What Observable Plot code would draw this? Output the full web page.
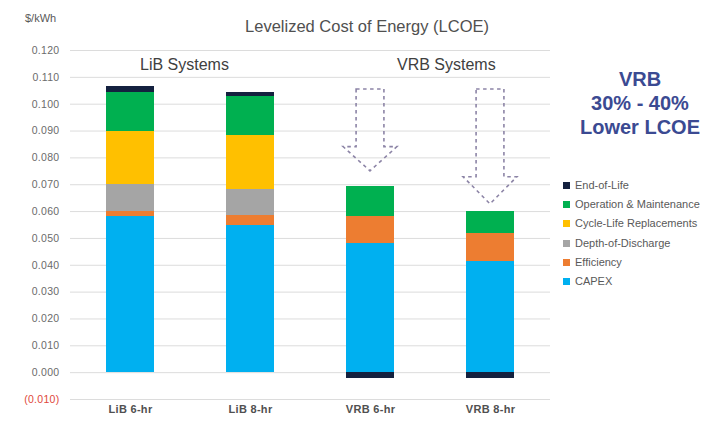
<!DOCTYPE html>
<html><head><meta charset="utf-8">
<script src="https://cdn.jsdelivr.net/npm/d3@7"></script>
<script src="https://cdn.jsdelivr.net/npm/@observablehq/plot@0.6"></script>
<style>
body{margin:0;background:#fff;font-family:"Liberation Sans",Arial,sans-serif;}
#wrap{position:relative;width:711px;height:429px;overflow:hidden;background:#fff;}
.abs{position:absolute;white-space:nowrap;line-height:1;}
#legend .item{position:absolute;left:0;display:flex;align-items:center;font-size:11px;color:#595959;white-space:nowrap;}
#legend .sw{width:7px;height:7px;margin-right:5px;}
</style></head><body><div id="wrap"></div>
<script>
// ---- data ----
const categories = ["LiB 6-hr", "LiB 8-hr", "VRB 6-hr", "VRB 8-hr"];
const series = ["CAPEX", "Efficiency", "Depth-of-Discharge", "Cycle-Life Replacements", "Operation & Maintenance", "End-of-Life"];
const seriesColors = ["#00B0F0", "#ED7D31", "#A5A5A5", "#FFC000", "#00B050", "#14213F"];
const capex      = [0.0580, 0.0550, 0.0480, 0.0415];
const efficiency = [0.0020, 0.0035, 0.0100, 0.0105];
const depthOfDischarge = [0.0100, 0.0097, 0, 0];
const cycleLife  = [0.0200, 0.0202, 0, 0];
const operationMaintenance = [0.0145, 0.0145, 0.0112, 0.0080];
const endOfLife  = [0.0022, 0.0015, -0.0022, -0.0022];
const yTicks = [-0.01, 0, 0.01, 0.02, 0.03, 0.04, 0.05, 0.06, 0.07, 0.08, 0.09, 0.10, 0.11, 0.12];
const arrowTargets = ["VRB 6-hr", "VRB 8-hr"];
const arrowTop  = [0.1055, 0.1055];
const arrowNeck = [0.0840, 0.0728];
const arrowTip  = [0.0750, 0.0627];
const titleText = "Levelized Cost of Energy (LCOE)";
const unitText = "$/kWh";
const groupLabels = ["LiB Systems", "VRB Systems"];
const noteLines = ["VRB", "30% - 40%", "Lower LCOE"];

// ---- table ----
const seriesValues = [capex, efficiency, depthOfDischarge, cycleLife, operationMaintenance, endOfLife];
const rows = [];
series.forEach((s, si) => categories.forEach((c, ci) => rows.push({category: c, series: s, value: seriesValues[si][ci]})));

const fmt = d3.format(".3f");

function arrowMark(index, scales) {
  const {x, y} = scales;
  const bw = typeof x.bandwidth === "function" ? x.bandwidth() : 48;
  const g = d3.create("svg:g").attr("fill", "none").attr("stroke", "#8C84A6")
    .attr("stroke-width", 1.6).attr("stroke-dasharray", "3.5,3.5");
  arrowTargets.forEach((c, i) => {
    const cx = x(c) + bw / 2;
    const sw = bw * 0.29, hw = bw * 0.56;
    const yt = y(arrowTop[i]), yn = y(arrowNeck[i]), yp = y(arrowTip[i]);
    g.append("path").attr("d", `M${cx - sw},${yt}H${cx + sw}V${yn}H${cx + hw}L${cx},${yp}L${cx - hw},${yn}H${cx - sw}Z`);
  });
  return g.node();
}

const chart = Plot.plot({
  width: 711, height: 429,
  marginLeft: 70, marginRight: 161, marginTop: 50, marginBottom: 30,
  style: {fontFamily: "'Liberation Sans', Arial, sans-serif", fontSize: "11px", background: "transparent"},
  x: {domain: categories, paddingInner: 0.6, paddingOuter: 0.3, label: null},
  y: {domain: [-0.01, 0.12], label: null},
  color: {domain: series, range: seriesColors},
  marks: [
    Plot.gridY(yTicks, {stroke: "#dcdcdc", strokeOpacity: 1}),
    Plot.barY(rows, {x: "category", y: "value", fill: "series", order: series, shapeRendering: "crispEdges"}),
    Plot.axisY(yTicks.filter(d => d >= 0), {tickSize: 0, tickPadding: 11, tickFormat: fmt, fill: "#6b6b6b", label: null, fontSize: 10.5}),
    Plot.axisY(yTicks.filter(d => d < 0), {tickSize: 0, tickPadding: 11, tickFormat: d => `(${fmt(-d)})`, fill: "#e0473a", label: null, fontSize: 10.5}),
    Plot.axisX({tickSize: 0, tickPadding: 6, fontWeight: "bold", fill: "#505050", label: null, fontSize: 11}),
    arrowMark
  ]
});

const wrap = document.getElementById("wrap");
wrap.appendChild(chart);
chart.style.position = "absolute"; chart.style.left = "0"; chart.style.top = "0";
chart.querySelectorAll("text").forEach(t => t.style.letterSpacing = "0.3px");

function addText(txt, css) {
  const d = document.createElement("div");
  d.className = "abs"; d.textContent = txt; Object.assign(d.style, css);
  wrap.appendChild(d); return d;
}
addText(titleText, {left: "367px", top: "18px", transform: "translateX(-50%)", fontSize: "16.5px", color: "#505050"});
addText(unitText, {left: "25px", top: "13px", fontSize: "11px", color: "#595959"});
addText(groupLabels[0], {left: "140px", top: "57px", fontSize: "16px", color: "#404040"});
addText(groupLabels[1], {left: "397px", top: "57px", fontSize: "16px", color: "#404040"});
const note = document.createElement("div");
note.className = "abs";
Object.assign(note.style, {left: "640px", top: "67px", transform: "translateX(-50%)", textAlign: "center", fontSize: "20px", fontWeight: "bold", color: "#3B4A92", lineHeight: "24px"});
note.innerHTML = noteLines.map(s => `<div>${s}</div>`).join("");
wrap.appendChild(note);

const legend = document.createElement("div");
legend.id = "legend"; legend.className = "abs";
Object.assign(legend.style, {left: "563px", top: "180px"});
series.slice().reverse().forEach((s, i) => {
  const item = document.createElement("div");
  item.className = "item"; item.style.top = (i * 19.2) + "px";
  const sw = document.createElement("span"); sw.className = "sw";
  sw.style.background = seriesColors[series.indexOf(s)];
  const tx = document.createElement("span"); tx.textContent = s;
  item.appendChild(sw); item.appendChild(tx); legend.appendChild(item);
});
wrap.appendChild(legend);
</script>
</body></html>
